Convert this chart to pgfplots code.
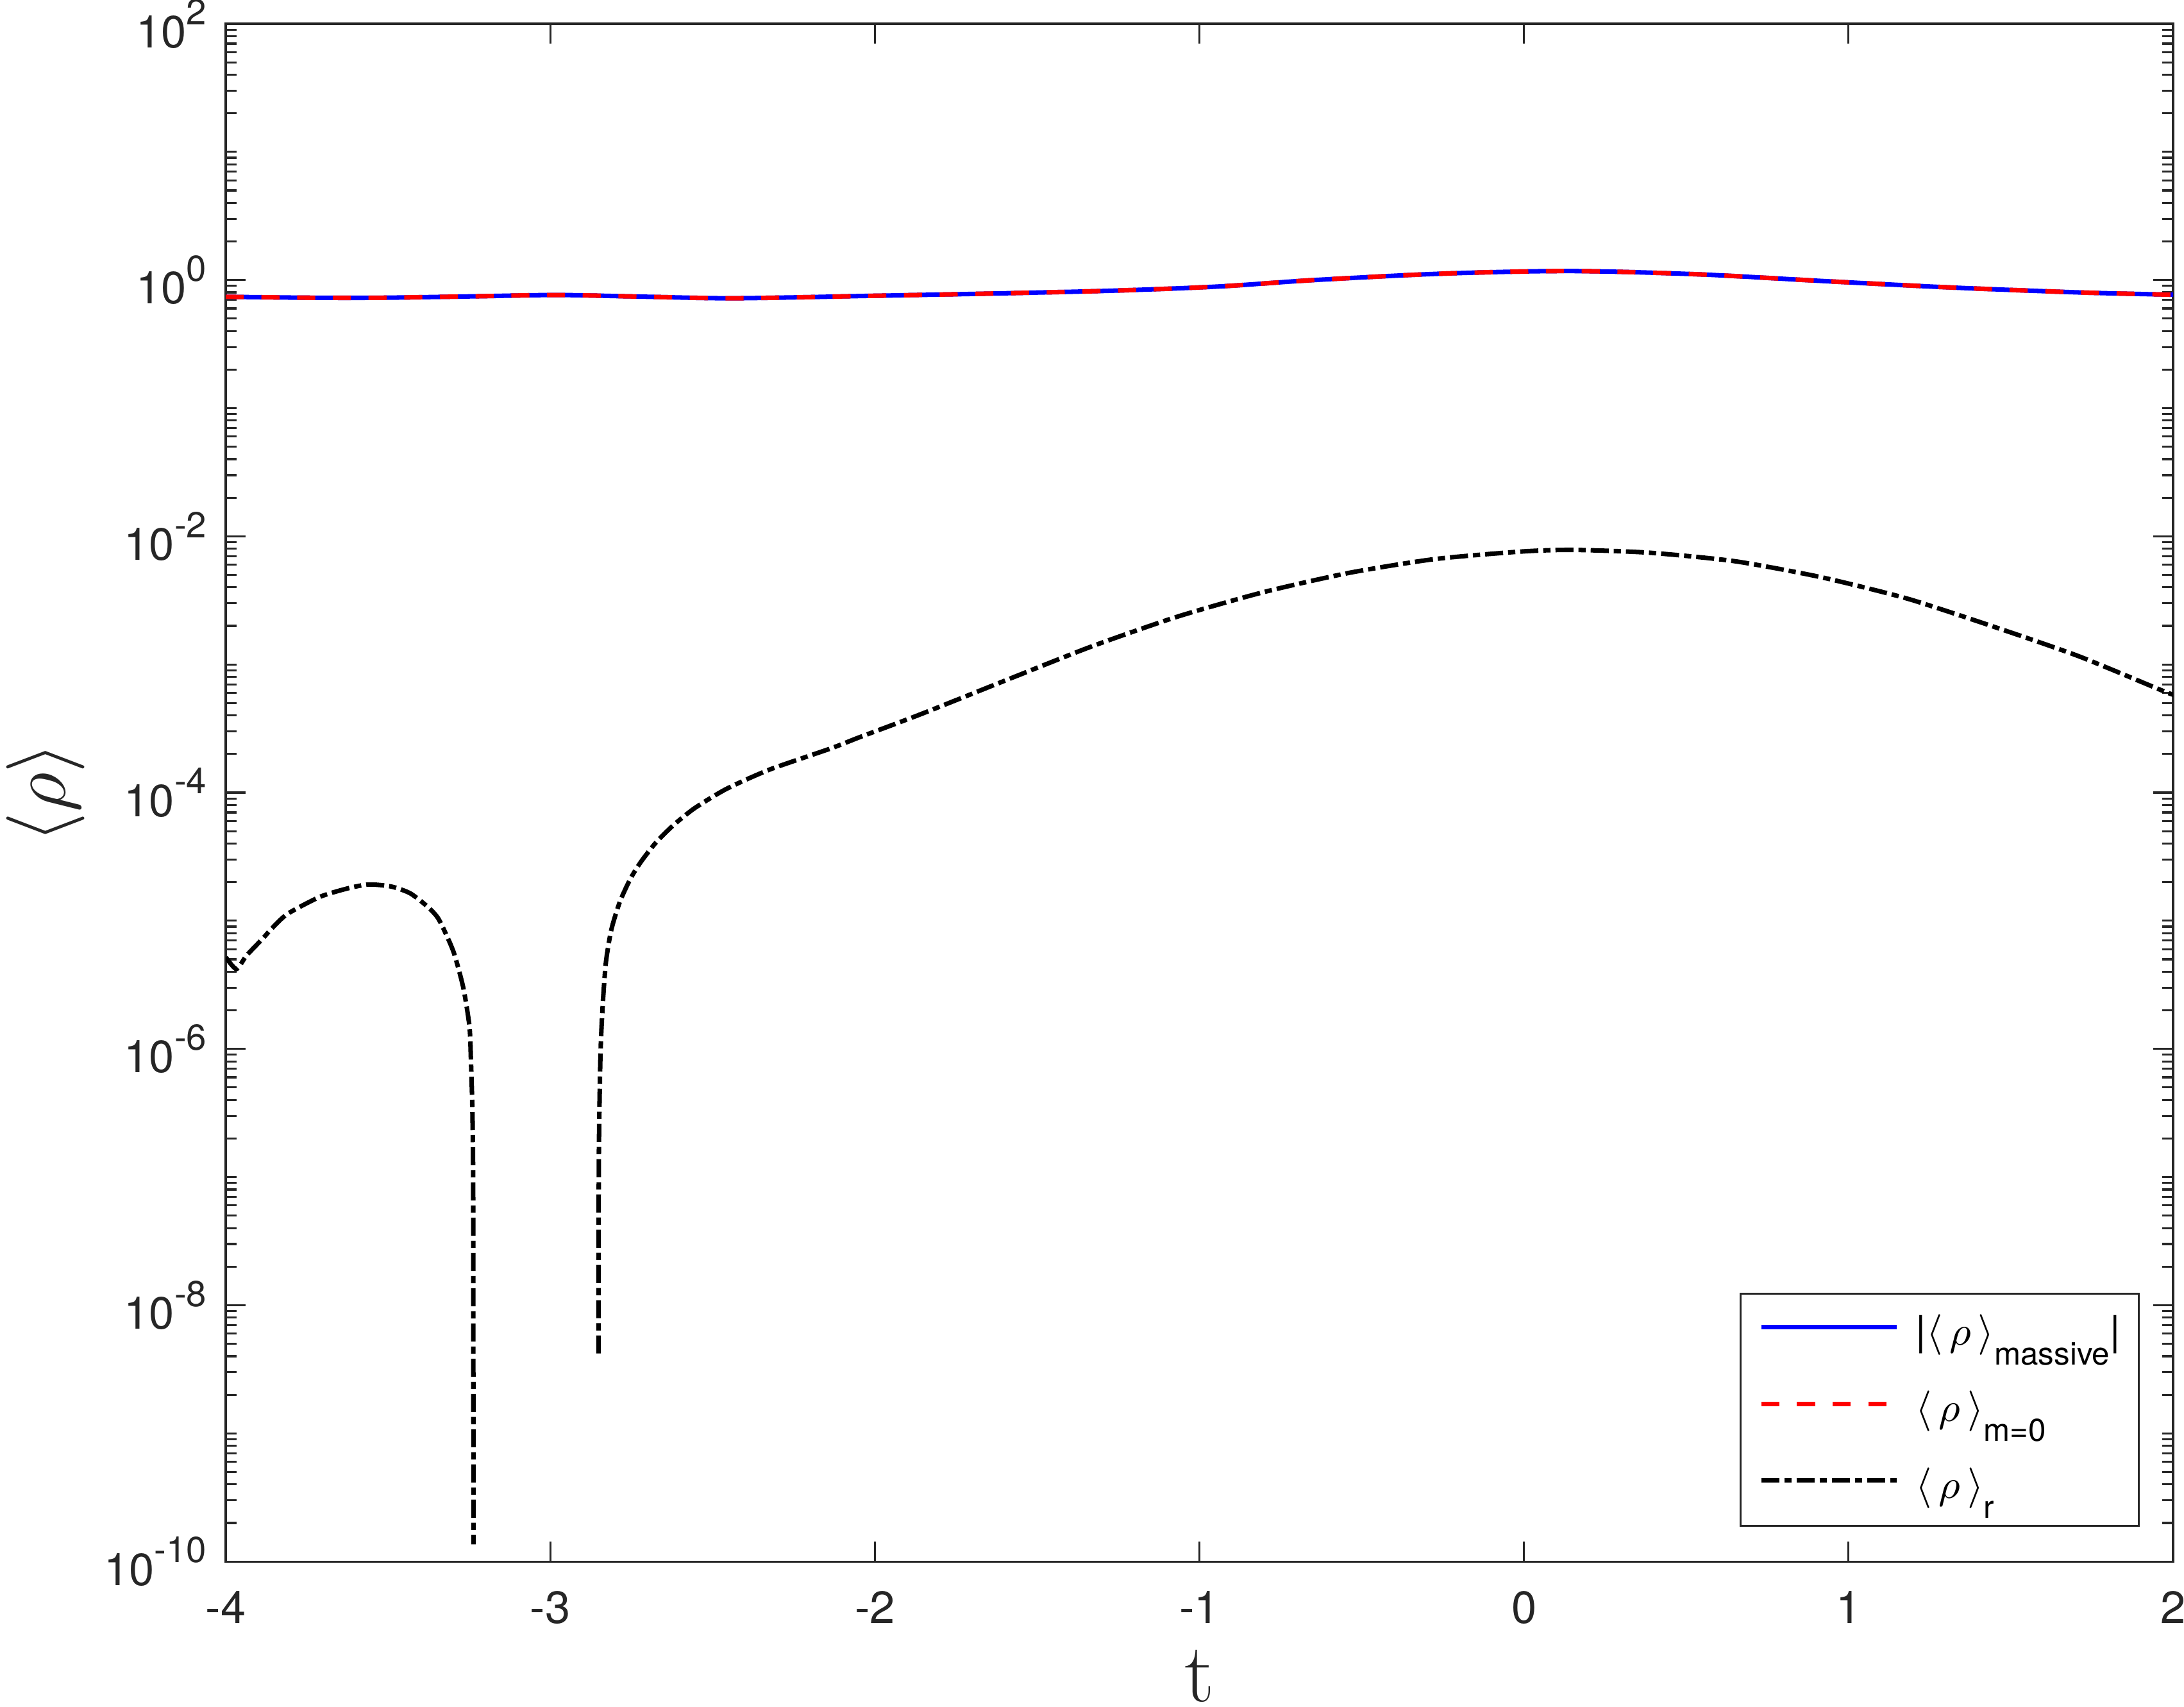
\documentclass[border=0pt]{standalone}
\usepackage{fontspec}
\usepackage{pgfplots}
\pgfplotsset{compat=1.18}
\newfontfamily\hv{TeX Gyre Heros}
\definecolor{axgray}{RGB}{38,38,38}
\definecolor{mblue}{RGB}{0,0,255}
\definecolor{mred}{RGB}{255,0,0}
% tick label 10^k in the text font
\newcommand{\te}[1]{10\raisebox{5pt}{\fontsize{8}{8}\selectfont#1}}
\newcommand{\sub}[1]{\raisebox{-4.4pt}{\fontsize{7}{7}\selectfont#1}}
\begin{document}
\begin{tikzpicture}
\begin{axis}[
    scale only axis,
    width=430.95pt,
    height=340.28pt,
    ymode=log,
    xmin=-4, xmax=2,
    ymin=1e-10, ymax=1e2,
    axis line style={axgray, line width=0.45pt},
    every tick/.style={axgray, line width=0.45pt},
    major tick length=4.4pt,
    minor tick length=2.4pt,
    xtick={-4,-3,-2,-1,0,1,2},
    xticklabels={-4,-3,-2,-1,0,1,2},
    ytick={1e-10,1e-8,1e-6,1e-4,1e-2,1,1e2},
    yticklabels={\te{-10},\te{-8},\te{-6},\te{-4},\te{-2},\te{0},\te{2}},
    minor ytick={
      2e-10,3e-10,4e-10,5e-10,6e-10,7e-10,8e-10,9e-10,1e-9,
      2e-9,3e-9,4e-9,5e-9,6e-9,7e-9,8e-9,9e-9,
      2e-8,3e-8,4e-8,5e-8,6e-8,7e-8,8e-8,9e-8,1e-7,
      2e-7,3e-7,4e-7,5e-7,6e-7,7e-7,8e-7,9e-7,
      2e-6,3e-6,4e-6,5e-6,6e-6,7e-6,8e-6,9e-6,1e-5,
      2e-5,3e-5,4e-5,5e-5,6e-5,7e-5,8e-5,9e-5,
      2e-4,3e-4,4e-4,5e-4,6e-4,7e-4,8e-4,9e-4,1e-3,
      2e-3,3e-3,4e-3,5e-3,6e-3,7e-3,8e-3,9e-3,
      2e-2,3e-2,4e-2,5e-2,6e-2,7e-2,8e-2,9e-2,1e-1,
      0.2,0.3,0.4,0.5,0.6,0.7,0.8,0.9,
      2,3,4,5,6,7,8,9,10,
      20,30,40,50,60,70,80,90},
    tick label style={font=\hv\fontsize{10}{12}\selectfont, text=axgray},
    xticklabel style={yshift=-3pt},
    yticklabel style={xshift=-0.7pt},
    xlabel={t},
    xlabel style={at={(axis description cs:0.5,-0.0912)}, anchor=base,
      font=\fontsize{18.5}{20}\selectfont, text=axgray},
    ylabel={$\langle\rho\rangle$},
    ylabel style={at={(axis description cs:-0.0925,0.5)}, anchor=center,
      font=\fontsize{17.5}{20}\selectfont, text=axgray},
    legend image code/.code={\draw[#1] (0pt,1.3pt) -- (30pt,1.3pt);},
    legend style={at={(axis description cs:1,0)}, anchor=south east,
      xshift=-7.4pt, yshift=7.7pt, draw=axgray, line width=0.4pt,
      inner xsep=4.1pt, inner ysep=4.6pt, row sep=8.7pt, column sep=3.7pt,
      font=\hv\fontsize{9}{11}\selectfont, nodes={inner sep=0pt}},
    legend cell align=left,
]
\addplot[mblue, line width=1pt, smooth, tension=0.5] table {
t      rho
-4.000 0.740
-3.750 0.728
-3.532 0.727
-3.250 0.745
-2.983 0.764
-2.750 0.745
-2.471 0.721
-2.250 0.732
-2.058 0.749
-1.665 0.782
-1.272 0.825
-0.942 0.890
-0.648 0.999
-0.254 1.121
0.139  1.175
0.532  1.109
0.925  0.981
1.318  0.874
1.711  0.800
2.000  0.768
};
\addplot[mred, line width=1pt, dash pattern=on 4pt off 3.9pt, smooth, tension=0.5] table {
t      rho
-4.000 0.740
-3.750 0.728
-3.532 0.727
-3.250 0.745
-2.983 0.764
-2.750 0.745
-2.471 0.721
-2.250 0.732
-2.058 0.749
-1.665 0.782
-1.272 0.825
-0.942 0.890
-0.648 0.999
-0.254 1.121
0.139  1.175
0.532  1.109
0.925  0.981
1.318  0.874
1.711  0.800
2.000  0.768
};
\addplot[black, line width=1pt, dash pattern=on 4pt off 1.1pt on 1.6pt off 1.1pt,
    smooth, tension=0.4, unbounded coords=jump] table {
t       rho
-4.000  5.2e-6
-3.967  4.2e-6
-3.936  5.35e-6
-3.885  7.3e-6
-3.860  8.6e-6
-3.810  1.13e-5
-3.709  1.54e-5
-3.620  1.80e-5
-3.558  1.92e-5
-3.490  1.85e-5
-3.432  1.64e-5
-3.380  1.30e-5
-3.344  1.03e-5
-3.299  5.8e-6
-3.268  3.0e-6
-3.249  1.5e-6
-3.2446 8.3e-7
-3.2400 3.3e-7
-3.2375 7.2e-8
-3.2367 1.36e-10
-3.000  nan
-2.8516 4.2e-9
-2.8503 1.5e-7
-2.8453 9.1e-7
-2.8384 2.21e-6
-2.8285 4.77e-6
-2.812  8.5e-6
-2.786  1.40e-5
-2.753  2.13e-5
-2.720  2.90e-5
-2.674  4.09e-5
-2.621  5.56e-5
-2.555  7.57e-5
-2.457  1.07e-4
-2.325  1.51e-4
-2.134  2.22e-4
-2.048  2.70e-4
-1.863  4.05e-4
-1.598  7.50e-4
-1.333  1.38e-3
-1.068  2.36e-3
-0.804  3.66e-3
-0.540  5.18e-3
-0.276  6.64e-3
-0.011  7.60e-3
0.149   7.84e-3
0.386   7.45e-3
0.650   6.39e-3
0.915   4.80e-3
1.180   3.27e-3
1.445   1.98e-3
1.709   1.16e-3
1.974   6.14e-4
2.000   5.85e-4
};
\legend{|$\langle\,\rho\,\rangle$\sub{massive}|,
        $\langle\,\rho\,\rangle$\sub{m=0},
        $\langle\,\rho\,\rangle$\sub{r}}
\end{axis}
\pgfresetboundingbox
\path[use as bounding box]
  ([shift={(-49.95pt,-32.07pt)}]current axis.south west)
  rectangle ([shift={(2.41pt,5.25pt)}]current axis.north east);
\end{tikzpicture}
\end{document}
